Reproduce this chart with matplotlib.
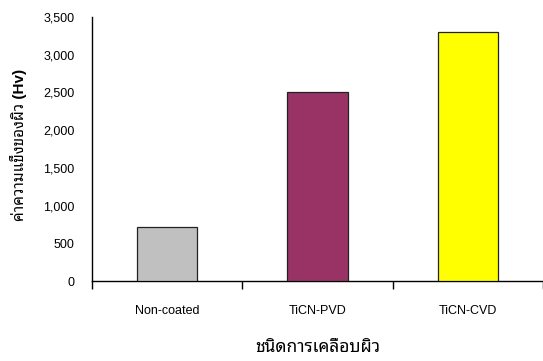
import matplotlib
matplotlib.use("Agg")
import matplotlib.pyplot as plt
from matplotlib.ticker import FuncFormatter, FixedLocator

categories = ["Non-coated", "TiCN-PVD", "TiCN-CVD"]
hardness = [720, 2500, 3300]
colors = ["#C0C0C0", "#993366", "#FFFF00"]
xlabel = "ชนิดการเคลือบผิว"
ylabel = "ค่าความแข็งของผิว (Hv)"

fam = ["Liberation Sans", "Noto Sans Thai Looped", "DejaVu Sans"]
plt.rcParams["font.family"] = fam

fig = plt.figure(figsize=(5.43, 3.61), dpi=100)
ax = fig.add_axes([92/543, 1-281/361, 1-92/543, 264/361])
x = list(range(len(categories)))
ax.bar(x, hardness, width=0.4, color=colors, edgecolor="#222222", linewidth=0.9, zorder=3)
ax.set_xlim(-0.5, len(categories)-0.5)
ax.set_ylim(0, 3500)
ax.set_yticks(range(0, 3501, 500))
ax.yaxis.set_major_formatter(FuncFormatter(lambda v, p: f"{int(v):,}"))
ax.tick_params(axis="y", length=0, pad=12.5, labelsize=9)
ax.set_xticks(x)
ax.set_xticklabels(categories)
ax.tick_params(axis="x", which="major", length=0, pad=17.5, labelsize=9)
ax.xaxis.set_minor_locator(FixedLocator([-0.5, 0.5, 1.5, 2.5]))
ax.tick_params(axis="x", which="minor", length=6, width=1, color="black")
for s in ["top", "right"]:
    ax.spines[s].set_visible(False)
for s in ["left", "bottom"]:
    ax.spines[s].set_linewidth(1)
    ax.spines[s].set_color("black")
ax.set_ylabel(ylabel, fontsize=11, fontweight="bold")
ax.yaxis.set_label_coords(-74/451, (281-145)/264)
ax.set_xlabel(xlabel, fontsize=12.5, fontweight="bold")
ax.xaxis.set_label_coords(0.5, (281-348)/264)
ax.xaxis.label.set_va("center")
ax.yaxis.label.set_va("center")
fig.savefig("out.png", dpi=100)
